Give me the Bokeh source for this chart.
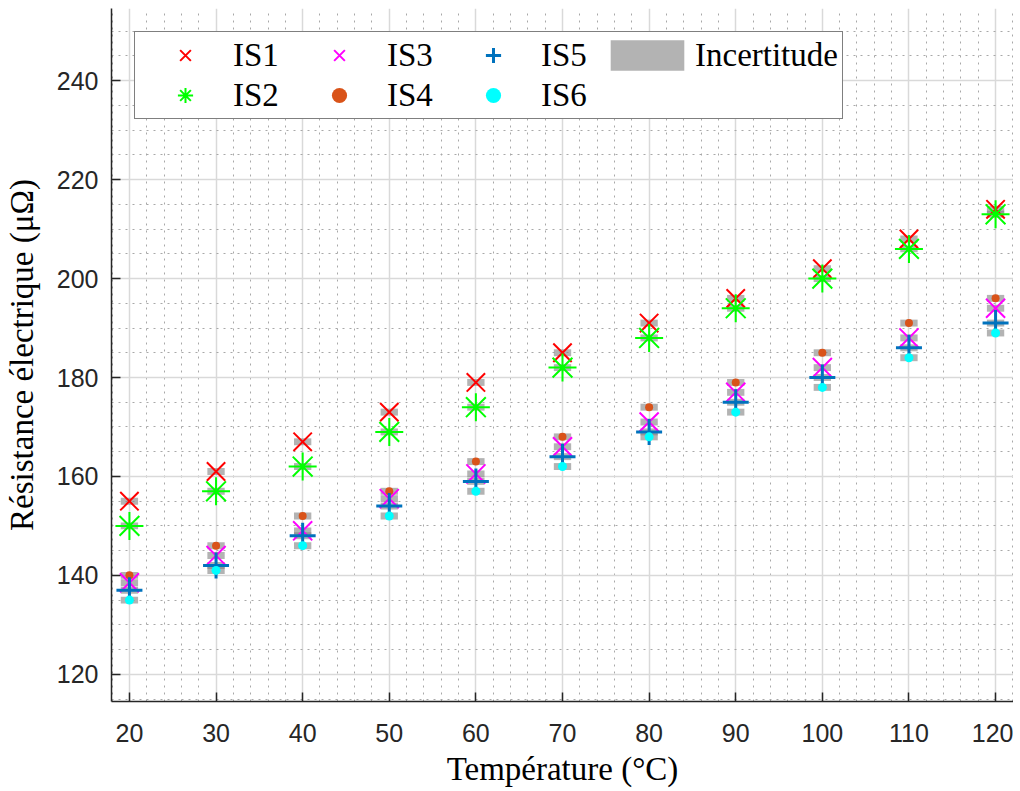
from bokeh.plotting import figure
from bokeh.models import SingleIntervalTicker, Legend, LegendItem, Range1d, ColumnDataSource
from bokeh.embed import file_html
from bokeh.resources import INLINE

# ---- data ----
temperature = [20, 30, 40, 50, 60, 70, 80, 90, 100, 110, 120]
IS1 = [155, 161, 167, 173, 179, 185, 191, 196, 202, 208, 214]
IS2 = [150, 157, 162, 169, 174, 182, 188, 194, 200, 206, 213]
IS3 = [138.5, 144, 149, 155.5, 160.5, 166, 171, 177, 182, 188, 194]
IS4 = [140, 146, 152, 157, 163, 168, 174, 179, 185, 191, 196]
IS5 = [137, 142, 148, 154, 159, 164, 169, 175, 180, 186, 191]
IS6 = [135, 141, 146, 152, 157, 162, 168, 173, 178, 184, 189]
incertitude = 0.7  # half-height of uncertainty (µΩ)
labels = ["IS1", "IS2", "IS3", "IS4", "IS5", "IS6"]
x_ticks_interval = 10
y_ticks_interval = 20

series = [IS1, IS2, IS3, IS4, IS5, IS6]

p = figure(width=1013, height=791,
           x_range=Range1d(17.93, 122.07), y_range=Range1d(114.5, 254.6),
           output_backend="svg", toolbar_location=None,
           min_border_left=109, min_border_right=0, min_border_top=8, min_border_bottom=90)
p.outline_line_color = None
p.background_fill_color = "white"
p.border_fill_color = "white"

xt = SingleIntervalTicker(interval=x_ticks_interval, num_minor_ticks=5)
yt = SingleIntervalTicker(interval=y_ticks_interval, num_minor_ticks=4)
p.xaxis[0].ticker = xt
p.yaxis[0].ticker = yt
p.xgrid[0].ticker = xt
p.ygrid[0].ticker = yt

for g in (p.xgrid[0], p.ygrid[0]):
    g.grid_line_color = "#d9d9d9"
    g.grid_line_width = 1.5
    g.minor_grid_line_color = "#a8a8a8"
    g.minor_grid_line_dash = "2 5"
    g.minor_grid_line_width = 1

for ax in (p.xaxis[0], p.yaxis[0]):
    ax.axis_line_color = "#262626"
    ax.axis_line_width = 1.5
    ax.major_tick_line_color = "#262626"
    ax.major_tick_line_width = 1.5
    ax.major_tick_in = 9
    ax.major_tick_out = 0
    ax.minor_tick_in = 0
    ax.minor_tick_out = 0
    ax.major_label_text_font = "Liberation Sans"
    ax.major_label_text_font_size = "25px"
    ax.major_label_text_color = "#262626"
    ax.axis_label_text_font = "Liberation Serif"
    ax.axis_label_text_font_size = "33px"
    ax.axis_label_text_font_style = "normal"
    ax.axis_label_text_color = "black"

p.xaxis[0].axis_label = "Température (°C)"
p.yaxis[0].axis_label = "Résistance électrique (μΩ)"
p.xaxis[0].major_label_standoff = 22
p.yaxis[0].major_label_standoff = 13
p.xaxis[0].axis_label_standoff = 6
p.yaxis[0].axis_label_standoff = 14

# uncertainty rectangles
rect_r = None
for s in series:
    src = ColumnDataSource(dict(x=temperature, y=s))
    rect_r = p.rect(x="x", y="y", width=2.0, height=2 * incertitude, source=src,
                    fill_color="#808080", fill_alpha=0.6, line_color=None)

styles = [
    dict(marker="x", color="#ff0000", size=26, lw=2),
    dict(marker="asterisk", color="#00ff00", size=28, lw=2),
    dict(marker="x", color="#ff00ff", size=27, lw=2),
    dict(marker="circle", color="#d95319", size=8, lw=0),
    dict(marker="cross", color="#0072bd", size=26, lw=3),
    dict(marker="circle", color="#00ffff", size=9, lw=0),
]

renderers = []
for s, st in zip(series, styles):
    src = ColumnDataSource(dict(x=temperature, y=s))
    if st["marker"] == "circle":
        r = p.scatter(x="x", y="y", source=src, marker="circle", size=st["size"],
                      fill_color=st["color"], line_color=None)
    else:
        r = p.scatter(x="x", y="y", source=src, marker=st["marker"], size=st["size"],
                      line_color=st["color"], line_width=st["lw"], fill_color=None)
    renderers.append(r)

items = [LegendItem(label=l, renderers=[r]) for l, r in zip(labels, renderers)]
items.append(LegendItem(label="Incertitude", renderers=[rect_r]))

legend = Legend(items=items, location="top_left", orientation="vertical", nrows=2,
                label_text_font="Liberation Serif", label_text_font_size="33px",
                label_text_color="black",
                glyph_width=92, glyph_height=38, label_standoff=2, label_width=58,
                padding=4, spacing=2, margin=23,
                border_line_color="black", border_line_width=1.5,
                background_fill_color="white", background_fill_alpha=1)
p.add_layout(legend)

open("out.html", "w").write(file_html(p, INLINE))
